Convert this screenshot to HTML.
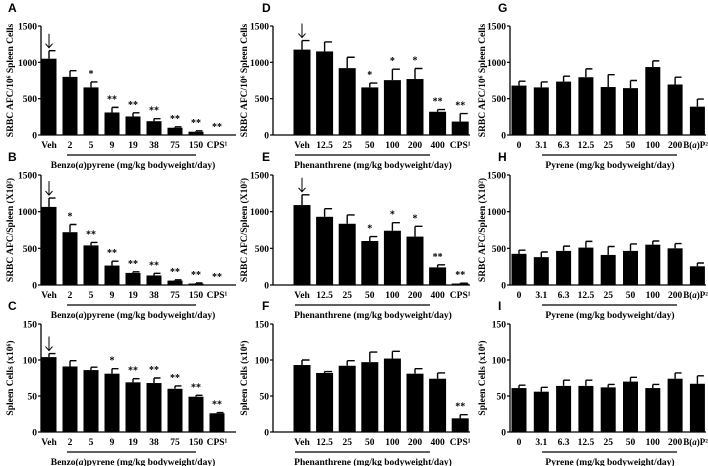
<!DOCTYPE html>
<html><head><meta charset="utf-8"><style>
html,body{margin:0;padding:0;background:#fff;width:708px;height:466px;overflow:hidden}
svg text{font-family:"Liberation Serif",serif;font-weight:bold;fill:#000}
</style></head><body>
<svg id="fig" width="708" height="466" viewBox="0 0 708 466" xmlns="http://www.w3.org/2000/svg"></svg>
<script>
const catsBaP = ["Veh","2","5","9","19","38","75","150","CPS¹"];
const catsPhe = ["Veh","12.5","25","50","100","200","400","CPS¹"];
const catsPyr = ["0","3.1","6.3","12.5","25","50","100","200","B(a)P²"];
const valA = [1050,800,655,310,255,190,100,45,0];
const errA = [110,85,75,70,50,35,12,12,0];
const starA = ["","","*","**","**","**","**","**","**"];
const valB = [1065,720,540,265,165,130,60,20,0];
const errB = [120,105,40,60,15,30,10,8,0];
const starB = ["","*","**","**","**","**","**","**","**"];
const valC = [104,91,86,81,69,68,60,49,26];
const errC = [5,8,4,7,5,7,4,2,1];
const starC = ["","","","*","**","**","**","**","**"];
const valD = [1175,1150,920,655,755,770,320,185];
const errD = [125,130,150,60,150,145,30,110];
const starD = ["","","","*","*","*","**","**"];
const valE = [1090,930,835,600,740,660,240,20];
const errE = [140,110,120,60,110,140,35,5];
const starE = ["","","","*","*","*","**","**"];
const valF = [93,82,92,97,102,81,74,19];
const errF = [7,2,7,14,10,7,8,5];
const starF = ["","","","","","","","**"];
const valG = [680,655,735,795,660,645,935,695,390];
const errG = [60,75,75,115,170,105,85,100,105];
const valH = [425,380,465,510,410,465,550,500,255];
const errH = [50,70,65,85,115,95,50,65,45];
const valI = [61,56,64,64,62,70,61,74,67];
const errI = [4,6,8,8,4,6,5,8,11];
const ticks1500 = [0,500,1000,1500];
const ticks150 = [0,50,100,150];

const svg = document.getElementById('fig');
const NS = "http://www.w3.org/2000/svg";
function mk(tag, attrs, txt){
  const e = document.createElementNS(NS, tag);
  for (const k in attrs) e.setAttribute(k, attrs[k]);
  if (txt !== undefined) e.textContent = txt;
  svg.appendChild(e);
  return e;
}
function richText(el, str){
  const parts = str.split("(a)");
  parts.forEach((s, i) => {
    if (s) { const t = document.createElementNS(NS, 'tspan'); t.textContent = s; el.appendChild(t); }
    if (i < parts.length - 1) {
      const o = document.createElementNS(NS, 'tspan'); o.textContent = "("; el.appendChild(o);
      const it = document.createElementNS(NS, 'tspan'); it.setAttribute('font-style', 'italic'); it.textContent = "a"; el.appendChild(it);
      const c = document.createElementNS(NS, 'tspan'); c.textContent = ")"; el.appendChild(c);
    }
  });
}
const cols = [
  {ax:41, end:236, c0:49, step:21, bw:15, yx:13, letX:8, lineX:[67,196], labX:133, drug:"Benzo(a)pyrene"},
  {ax:273, end:470, c0:302, step:22.6, bw:17, yx:247, letX:262, lineX:[295,430], labX:373, drug:"Phenanthrene"},
  {ax:510, end:706, c0:519, step:22.3, bw:15, yx:485, letX:498, lineX:[542,677], labX:610, drug:"Pyrene"}
];
const rows = [{top:26, zero:135}, {top:175, zero:285}, {top:324, zero:432}];
const panels = [
  {L:"A",c:0,r:0,cats:catsBaP,v:valA,e:errA,s:starA,max:1500,t:ticks1500,y:"SRBC AFC/10⁶ Spleen Cells",arrow:true},
  {L:"B",c:0,r:1,cats:catsBaP,v:valB,e:errB,s:starB,max:1500,t:ticks1500,y:"SRBC AFC/Spleen (X10²)",arrow:true},
  {L:"C",c:0,r:2,cats:catsBaP,v:valC,e:errC,s:starC,max:150,t:ticks150,y:"Spleen Cells (x10⁶)",arrow:true},
  {L:"D",c:1,r:0,cats:catsPhe,v:valD,e:errD,s:starD,max:1500,t:ticks1500,y:"SRBC AFC/10⁶ Spleen Cells",arrow:true},
  {L:"E",c:1,r:1,cats:catsPhe,v:valE,e:errE,s:starE,max:1500,t:ticks1500,y:"SRBC AFC/Spleen (X10²)",arrow:true},
  {L:"F",c:1,r:2,cats:catsPhe,v:valF,e:errF,s:starF,max:150,t:ticks150,y:"Spleen Cells (x10⁶)",arrow:false},
  {L:"G",c:2,r:0,cats:catsPyr,v:valG,e:errG,s:null,max:1500,t:ticks1500,y:"SRBC AFC/10⁶ Spleen Cells",arrow:false},
  {L:"H",c:2,r:1,cats:catsPyr,v:valH,e:errH,s:null,max:1500,t:ticks1500,y:"SRBC AFC/Spleen (X10²)",arrow:false},
  {L:"I",c:2,r:2,cats:catsPyr,v:valI,e:errI,s:null,max:150,t:ticks150,y:"Spleen Cells (x10⁶)",arrow:false}
];
panels.forEach(p => {
  const C = cols[p.c], R = rows[p.r];
  const yS = v => R.zero - v / p.max * (R.zero - R.top);
  const xS = i => C.c0 + i * C.step;
  const lt = mk('text', {x:C.letX, y:R.top - 14, 'font-size':12, style:'font-family:"Liberation Sans",sans-serif;font-weight:bold'}, p.L);
  
  
  const ya = mk('line', {x1:C.ax, y1:R.top, x2:C.ax, y2:R.zero, stroke:'#000', 'stroke-width':1.3});
  
  
  const xa = mk('line', {x1:C.ax, y1:R.zero, x2:C.end, y2:R.zero, stroke:'#000', 'stroke-width':1.3});
  
  
  p.t.forEach(t => {
    const y = yS(t);
    mk('line', {x1:C.ax - 3, y1:y, x2:C.ax, y2:y, stroke:'#000', 'stroke-width':1.2});
    const tl = mk('text', {x:C.ax - 4, y:y + 3.5, 'font-size':9.5, 'text-anchor':'end'}, String(t));
    
    
  });
  const yt = mk('text', {x:0, y:0, 'font-size':9.5, 'text-anchor':'middle', transform:'translate(' + C.yx + ',' + ((R.top + R.zero) / 2) + ') rotate(-90)'}, p.y);
  
  
  p.cats.forEach((cat, i) => {
    const x = xS(i), v = p.v[i], e = p.e[i];
    const top = yS(v);
    if (e > 0) {
      const et = yS(v + e);
      const el = mk('path', {d:'M' + x + ' ' + top + 'V' + et + 'M' + (x) + ' ' + et + 'H' + (x + C.bw / 2 - 1), stroke:'#000', 'stroke-width':1.4, fill:'none'});
      
      
    }
    if (v > 0) {
      const b = mk('rect', {x:x - C.bw / 2, y:top, width:C.bw, height:R.zero - top, fill:'#000'});
      
      
    }
    const last = (p.c === 2 && i === p.cats.length - 1);
    const xl = mk('text', {x:last ? 708 : x, y:R.zero + 13, 'font-size':last ? 9 : 9.5, 'text-anchor':last ? 'end' : 'middle'});
    richText(xl, cat);
    
    
    if (p.s && p.s[i]) {
      const st = mk('text', {x:x, y:yS(v + e) - 5, 'font-size':10, 'text-anchor':'middle'}, p.s[i]);
      
      
    }
    if (p.arrow && i === 0) {
      const ay = yS(v + e) - 3;
      const ar = mk('path', {d:'M' + x + ' ' + (ay - 14) + 'V' + ay + 'M' + (x - 3.5) + ' ' + (ay - 4) + 'L' + x + ' ' + ay + 'L' + (x + 3.5) + ' ' + (ay - 4), stroke:'#000', 'stroke-width':1, fill:'none'});
      
      
    }
  });
  const ul = mk('line', {x1:C.lineX[0], y1:R.zero + 20, x2:C.lineX[1], y2:R.zero + 20, stroke:'#000', 'stroke-width':1.3});
  
  
  const xt = mk('text', {x:C.labX, y:R.zero + 33, 'font-size':9.5, 'text-anchor':'middle'});
  richText(xt, C.drug + ' (mg/kg bodyweight/day)');
  
  
});
</script>
</body></html>
